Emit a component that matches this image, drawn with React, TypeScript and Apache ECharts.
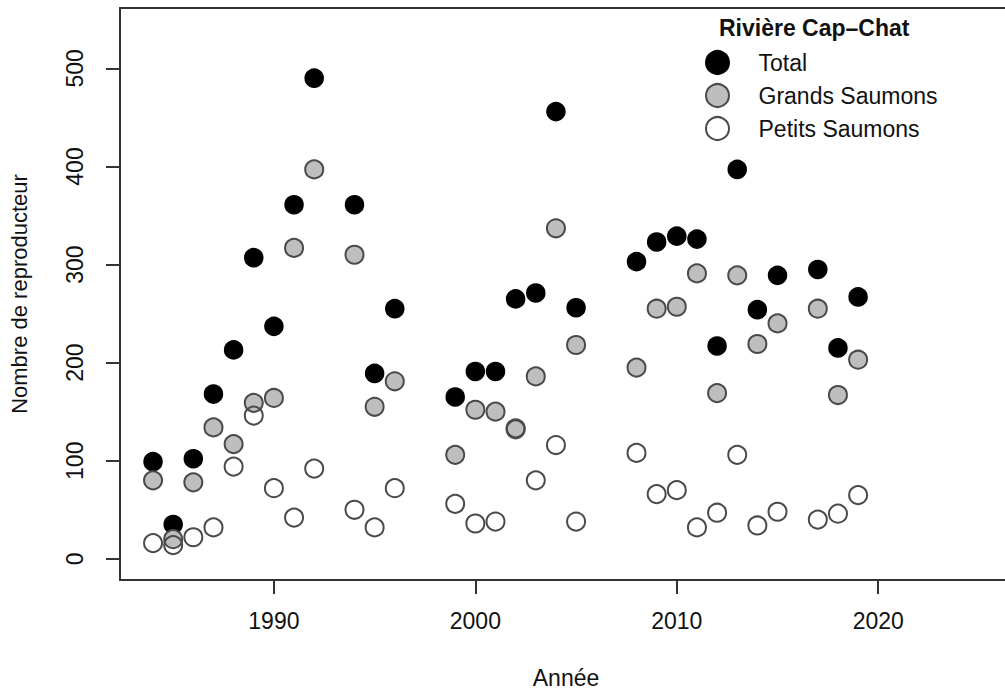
import React, { useEffect, useRef } from "react";
import * as echarts from "echarts";

const years = [1984, 1985, 1986, 1987, 1988, 1989, 1990, 1991, 1992, 1994, 1995, 1996, 1999, 2000, 2001, 2002, 2003, 2004, 2005, 2008, 2009, 2010, 2011, 2012, 2013, 2014, 2015, 2017, 2018, 2019];
const total = [99, 35, 102, 168, 213, 307, 237, 361, 490, 361, 189, 255, 165, 191, 191, 265, 271, 456, 256, 303, 323, 329, 326, 217, 397, 254, 289, 295, 215, 267];
const grands = [80, 20, 78, 134, 117, 159, 164, 317, 397, 310, 155, 181, 106, 152, 150, 132, 186, 337, 218, 195, 255, 257, 291, 169, 289, 219, 240, 255, 167, 203];
const petits = [16, 14, 22, 32, 94, 146, 72, 42, 92, 50, 32, 72, 56, 36, 38, 133, 80, 116, 38, 108, 66, 70, 32, 47, 106, 34, 48, 40, 46, 65];

const xTicks = [1990, 2000, 2010, 2020];
const yTicks = [0, 100, 200, 300, 400, 500];

const FONT = "'Liberation Sans', Arial, Helvetica, sans-serif";
const TXT = "#111111";
const LINE = { color: "#333333", width: 2 };

export default function App() {
  const ref = useRef<HTMLDivElement>(null);
  useEffect(() => {
    if (!ref.current) return;
    const chart = echarts.init(ref.current, undefined, { renderer: "svg" });
    const pairs = (vals: number[]) => years.map((y, i) => [y, vals[i]]);
    chart.setOption({
      animation: false,
      backgroundColor: "#ffffff",
      textStyle: { fontFamily: FONT },
      title: {
        text: "Rivière Cap–Chat",
        left: 719,
        top: 16,
        padding: 0,
        textStyle: { fontFamily: FONT, fontSize: 23, fontWeight: "bold", color: TXT },
      },
      legend: {
        orient: "vertical",
        left: 705,
        top: 50,
        padding: 0,
        itemWidth: 72,
        itemHeight: 23,
        itemGap: 8,
        data: ["Total", "Grands Saumons", "Petits Saumons"],
        textStyle: { fontFamily: FONT, fontSize: 23, lineHeight: 23, color: TXT },
      },
      grid: {
        show: false,
        left: 120,
        top: 8,
        width: 892,
        height: 572,
        outerBoundsMode: "none",
        containLabel: false,
      },
      xAxis: [
        {
          type: "value",
          position: "bottom",
          min: 1982.36,
          max: 2026.64,
          name: "Année",
          nameLocation: "middle",
          nameGap: 86,
          nameTextStyle: { fontFamily: FONT, fontSize: 23, color: TXT },
          axisLine: { show: true, onZero: false, lineStyle: LINE },
          splitLine: { show: false },
          axisTick: { show: true, customValues: xTicks, length: 14, lineStyle: LINE },
          axisLabel: {
            customValues: xTicks,
            margin: 29,
            fontFamily: FONT,
            fontSize: 23,
            color: TXT,
            formatter: (v: number) => String(v),
          },
        },
        {
          type: "value",
          position: "top",
          min: 1982.36,
          max: 2026.64,
          axisLine: { show: true, onZero: false, lineStyle: LINE },
          splitLine: { show: false },
          axisTick: { show: false },
          axisLabel: { show: false },
        },
      ],
      yAxis: {
        type: "value",
        min: -21.6,
        max: 561.6,
        name: "Nombre de reproducteur",
        nameLocation: "middle",
        nameGap: 90,
        nameRotate: 90,
        nameTextStyle: { fontFamily: FONT, fontSize: 22, color: TXT },
        axisLine: { show: true, onZero: false, lineStyle: LINE },
        splitLine: { show: false },
        axisTick: { show: true, customValues: yTicks, length: 14, lineStyle: LINE },
        axisLabel: {
          customValues: yTicks,
          rotate: 90,
          margin: 34,
          fontFamily: FONT,
          fontSize: 23,
          color: TXT,
          formatter: (v: number) => String(v),
        },
      },
      series: [
        {
          name: "Total",
          type: "scatter",
          symbol: "circle",
          symbolSize: 18,
          data: pairs(total),
          itemStyle: { color: "#000000", borderColor: "#000000", borderWidth: 1.5, opacity: 1 },
        },
        {
          name: "Grands Saumons",
          type: "scatter",
          symbol: "circle",
          symbolSize: 18,
          data: pairs(grands),
          itemStyle: { color: "#bebebe", borderColor: "#4a4a4a", borderWidth: 2, opacity: 1 },
        },
        {
          name: "Petits Saumons",
          type: "scatter",
          symbol: "circle",
          symbolSize: 18,
          data: pairs(petits),
          itemStyle: { color: "rgba(255,255,255,0)", borderColor: "#4a4a4a", borderWidth: 2, opacity: 1 },
        },
      ],
    });
    return () => chart.dispose();
  }, []);
  return (
    <div
      ref={ref}
      style={{ position: "absolute", left: 0, top: 0, width: 1005, height: 694 }}
    />
  );
}
